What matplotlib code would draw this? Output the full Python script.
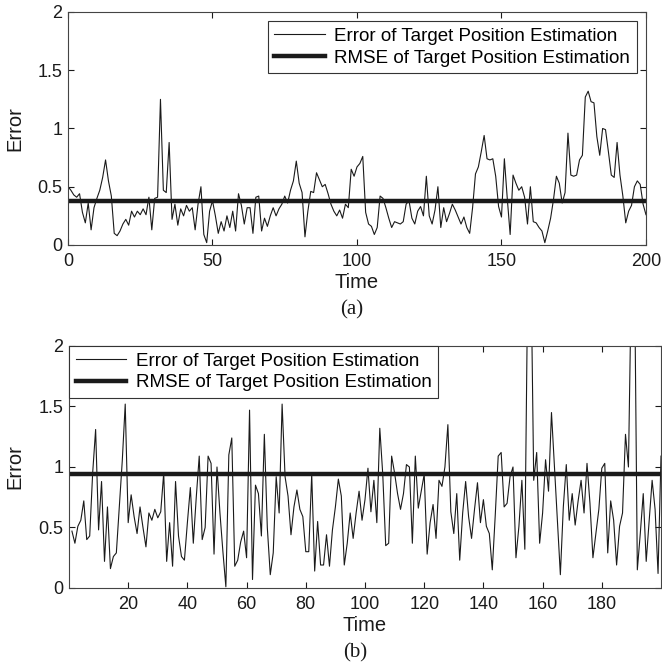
import matplotlib
matplotlib.use("Agg")
import matplotlib.pyplot as plt
import numpy as np

plt.rcParams['font.family'] = ['Liberation Sans', 'DejaVu Sans']

# (a) error at each time step, t = 0..200
time_a = np.arange(0, 201)
err_a = [
    0.50, 0.47, 0.43, 0.41, 0.44, 0.28, 0.19, 0.36, 0.13, 0.32,
    0.40, 0.47, 0.58, 0.73, 0.55, 0.42, 0.10, 0.08, 0.12, 0.18,
    0.22, 0.17, 0.29, 0.24, 0.29, 0.26, 0.31, 0.26, 0.41, 0.13,
    0.40, 0.41, 1.25, 0.47, 0.45, 0.88, 0.22, 0.35, 0.17, 0.31,
    0.25, 0.34, 0.29, 0.32, 0.13, 0.35, 0.50, 0.09, 0.02, 0.29,
    0.38, 0.25, 0.10, 0.20, 0.12, 0.25, 0.15, 0.29, 0.12, 0.44,
    0.34, 0.18, 0.32, 0.32, 0.10, 0.41, 0.42, 0.12, 0.23, 0.16,
    0.25, 0.32, 0.25, 0.31, 0.35, 0.42, 0.36, 0.47, 0.55, 0.72,
    0.53, 0.45, 0.07, 0.29, 0.46, 0.45, 0.62, 0.56, 0.50, 0.52,
    0.44, 0.35, 0.29, 0.25, 0.30, 0.23, 0.35, 0.32, 0.65, 0.59,
    0.67, 0.70, 0.76, 0.28, 0.18, 0.16, 0.09, 0.15, 0.42, 0.40,
    0.32, 0.23, 0.15, 0.20, 0.19, 0.18, 0.20, 0.35, 0.38, 0.23,
    0.18, 0.29, 0.33, 0.25, 0.59, 0.25, 0.18, 0.30, 0.50, 0.15,
    0.32, 0.20, 0.27, 0.35, 0.30, 0.24, 0.18, 0.24, 0.15, 0.10,
    0.32, 0.61, 0.67, 0.80, 0.94, 0.74, 0.73, 0.74, 0.59, 0.33,
    0.24, 0.74, 0.40, 0.09, 0.60, 0.53, 0.47, 0.50, 0.41, 0.18,
    0.50, 0.20, 0.19, 0.15, 0.12, 0.02, 0.12, 0.23, 0.39, 0.59,
    0.53, 0.36, 0.45, 0.96, 0.60, 0.59, 0.60, 0.73, 0.77, 1.27,
    1.32, 1.23, 1.22, 0.93, 0.77, 1.00, 0.99, 0.80, 0.60, 0.58,
    0.88, 0.60, 0.42, 0.19, 0.29, 0.34, 0.50, 0.55, 0.52, 0.35,
    0.26,
]
rmse_a = 0.38

# (b) error at each time step, t = 1..200
time_b = np.arange(1, 201)
err_b = [
    0.47, 0.37, 0.51, 0.56, 0.72, 0.40, 0.43, 0.95, 1.31, 0.48,
    0.88, 0.22, 0.67, 0.16, 0.26, 0.29, 0.67, 1.05, 1.52, 0.54,
    0.77, 0.59, 0.45, 0.67, 0.50, 0.34, 0.62, 0.56, 0.65, 0.58,
    0.63, 0.95, 0.22, 0.54, 0.18, 0.88, 0.43, 0.26, 0.23, 0.54,
    0.83, 0.37, 0.75, 1.09, 0.40, 0.50, 1.09, 1.03, 0.28, 1.00,
    0.62, 0.30, 0.01, 1.10, 1.24, 0.18, 0.23, 0.38, 0.47, 0.25,
    1.47, 0.07, 0.85, 0.78, 0.43, 1.27, 0.50, 0.11, 0.29, 0.92,
    0.62, 1.52, 0.92, 0.76, 0.44, 0.67, 0.81, 0.65, 0.59, 0.30,
    0.30, 0.94, 0.14, 0.55, 0.19, 0.19, 0.44, 0.18, 0.48, 0.67,
    0.90, 0.76, 0.19, 0.37, 0.62, 0.41, 0.62, 0.80, 0.56, 0.73,
    0.99, 0.63, 0.89, 0.54, 1.32, 0.94, 0.35, 0.37, 1.09, 0.95,
    0.78, 0.65, 0.78, 1.02, 1.00, 0.37, 1.09, 0.66, 0.80, 0.94,
    0.28, 0.54, 0.69, 0.41, 0.89, 0.84, 1.00, 1.35, 0.63, 0.45,
    0.78, 0.23, 0.62, 0.88, 0.59, 0.41, 0.65, 0.87, 0.54, 0.73,
    0.51, 0.45, 0.15, 0.60, 1.09, 1.12, 0.67, 0.70, 0.92, 1.00,
    0.25, 0.51, 0.89, 0.32, 2.60, 2.80, 0.89, 1.12, 0.37, 0.62,
    1.06, 0.80, 1.45, 1.00, 0.55, 0.11, 0.67, 1.02, 0.56, 0.78,
    0.52, 0.72, 0.89, 0.62, 1.03, 0.70, 0.25, 0.45, 0.65, 0.99,
    1.03, 0.29, 0.72, 0.56, 0.19, 0.51, 0.62, 1.27, 1.00, 2.60,
    2.80, 0.15, 0.45, 0.78, 0.22, 0.55, 0.89, 0.65, 0.12, 1.09,
]
rmse_b = 0.94

labels = ['Error of Target Position Estimation', 'RMSE of Target Position Estimation']
ink = '#1a1a1a'

fig = plt.figure(figsize=(6.62, 6.65), dpi=100)
ax1 = fig.add_axes([0.1027, 0.6316, 0.8731, 0.3504])
ax2 = fig.add_axes([0.1042, 0.1158, 0.8943, 0.3639])


def style(ax):
    ax.set_ylim(0, 2)
    ax.set_yticks([0, 0.5, 1, 1.5, 2])
    ax.set_yticklabels(['0', '0.5', '1', '1.5', '2'])
    ax.tick_params(direction='in', top=True, right=True, length=4,
                   width=0.8, labelsize=13, pad=4, colors=ink)
    ax.tick_params(axis='x', pad=6)
    for s in ax.spines.values():
        s.set_linewidth(0.8)
        s.set_color('#444444')
    ax.set_xlabel('Time', fontsize=14.5, labelpad=2, color=ink)
    ax.set_ylabel('Error', fontsize=14.5, color=ink)
    ax.yaxis.set_label_coords(-0.075, 0.5)


ax1.plot(time_a, err_a, color=ink, lw=0.8, label=labels[0])
ax1.plot(time_a, [rmse_a] * len(time_a), color=ink, lw=3.2, label=labels[1])
ax1.set_xlim(0, 200)
ax1.set_xticks([0, 50, 100, 150, 200])
style(ax1)
ax1.legend(loc='upper right', fontsize=13.5, frameon=True, fancybox=False,
           edgecolor='#333333', framealpha=1, handlelength=2.7,
           handletextpad=0.5, borderpad=0.35, labelspacing=0.25,
           borderaxespad=0.5).get_frame().set_linewidth(0.8)

ax2.plot(time_b, err_b, color=ink, lw=0.8, label=labels[0])
ax2.plot([0] + list(time_b), [rmse_b] * (len(time_b) + 1), color=ink, lw=3.2,
         label=labels[1])
ax2.set_xlim(0, 200)
ax2.set_xticks(np.arange(20, 200, 20))
style(ax2)
ax2.legend(loc='upper left', fontsize=13.5, frameon=True, fancybox=False,
           edgecolor='#333333', framealpha=1, handlelength=2.7,
           handletextpad=0.5, borderpad=0.35, labelspacing=0.25,
           borderaxespad=0.0).get_frame().set_linewidth(0.8)

fig.text(0.532, 1 - 310 / 665, '(a)', ha='center', va='center',
         fontsize=15, family='Liberation Serif', color=ink)
fig.text(0.536, 1 - 653 / 665, '(b)', ha='center', va='center',
         fontsize=15, family='Liberation Serif', color=ink)

fig.savefig('out.png', dpi=100)
